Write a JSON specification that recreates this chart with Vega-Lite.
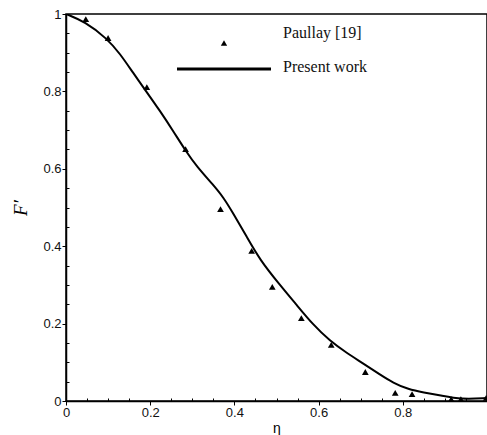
{
  "$schema": "https://vega.github.io/schema/vega-lite/v6.json",
  "autosize": "none",
  "padding": {"left": 66, "top": 14, "right": 0, "bottom": 34},
  "width": 421,
  "height": 387,
  "background": "white",
  "config": {
    "view": {"stroke": "black", "strokeWidth": 1.5},
    "axis": {"domainColor": "black", "domainWidth": 1.5, "tickColor": "black", "labelColor": "#111", "labelFont": "Liberation Sans", "labelFontSize": 13, "grid": false}
  },
  "datasets": {
    "exp": [
      {"eta": 0.047, "F": 0.987, "series": "Paullay [19]"},
      {"eta": 0.100, "F": 0.938, "series": "Paullay [19]"},
      {"eta": 0.192, "F": 0.811, "series": "Paullay [19]"},
      {"eta": 0.284, "F": 0.651, "series": "Paullay [19]"},
      {"eta": 0.367, "F": 0.496, "series": "Paullay [19]"},
      {"eta": 0.441, "F": 0.388, "series": "Paullay [19]"},
      {"eta": 0.490, "F": 0.295, "series": "Paullay [19]"},
      {"eta": 0.559, "F": 0.214, "series": "Paullay [19]"},
      {"eta": 0.630, "F": 0.145, "series": "Paullay [19]"},
      {"eta": 0.711, "F": 0.075, "series": "Paullay [19]"},
      {"eta": 0.782, "F": 0.021, "series": "Paullay [19]"},
      {"eta": 0.822, "F": 0.018, "series": "Paullay [19]"},
      {"eta": 0.915, "F": 0.005, "series": "Paullay [19]"},
      {"eta": 0.938, "F": 0.005, "series": "Paullay [19]"},
      {"eta": 0.998, "F": 0.008, "series": "Paullay [19]"}
    ],
    "model": [
      {"eta": 0.000, "F": 1.000, "series": "Present work"},
      {"eta": 0.045, "F": 0.980, "series": "Present work"},
      {"eta": 0.097, "F": 0.937, "series": "Present work"},
      {"eta": 0.128, "F": 0.898, "series": "Present work"},
      {"eta": 0.160, "F": 0.847, "series": "Present work"},
      {"eta": 0.188, "F": 0.804, "series": "Present work"},
      {"eta": 0.223, "F": 0.750, "series": "Present work"},
      {"eta": 0.255, "F": 0.697, "series": "Present work"},
      {"eta": 0.285, "F": 0.645, "series": "Present work"},
      {"eta": 0.310, "F": 0.607, "series": "Present work"},
      {"eta": 0.350, "F": 0.558, "series": "Present work"},
      {"eta": 0.374, "F": 0.526, "series": "Present work"},
      {"eta": 0.397, "F": 0.485, "series": "Present work"},
      {"eta": 0.429, "F": 0.425, "series": "Present work"},
      {"eta": 0.461, "F": 0.364, "series": "Present work"},
      {"eta": 0.508, "F": 0.300, "series": "Present work"},
      {"eta": 0.548, "F": 0.248, "series": "Present work"},
      {"eta": 0.587, "F": 0.197, "series": "Present work"},
      {"eta": 0.627, "F": 0.155, "series": "Present work"},
      {"eta": 0.667, "F": 0.124, "series": "Present work"},
      {"eta": 0.706, "F": 0.097, "series": "Present work"},
      {"eta": 0.746, "F": 0.068, "series": "Present work"},
      {"eta": 0.777, "F": 0.047, "series": "Present work"},
      {"eta": 0.813, "F": 0.030, "series": "Present work"},
      {"eta": 0.850, "F": 0.022, "series": "Present work"},
      {"eta": 0.888, "F": 0.015, "series": "Present work"},
      {"eta": 0.940, "F": 0.004, "series": "Present work"},
      {"eta": 1.000, "F": 0.008, "series": "Present work"}
    ]
  },
  "encoding": {
    "x": {"field": "eta", "type": "quantitative",
      "scale": {"domain": [0, 1], "nice": false},
      "axis": {
        "title": "η", "titleFont": "Liberation Sans", "titleFontSize": 14, "titleFontWeight": "normal", "titlePadding": 2,
        "values": [0, 0.05, 0.1, 0.15, 0.2, 0.25, 0.3, 0.35, 0.4, 0.45, 0.5, 0.55, 0.6, 0.65, 0.7, 0.75, 0.8, 0.85, 0.9, 0.95],
        "labelExpr": "abs(datum.value*5 - round(datum.value*5)) < 0.001 ? format(datum.value, '~g') : ''",
        "tickSize": {"condition": {"test": "abs(datum.value*5 - round(datum.value*5)) < 0.001", "value": 4}, "value": -3},
        "labelPadding": 1, "labelFlush": false, "labelOverlap": false
      }},
    "y": {"field": "F", "type": "quantitative",
      "scale": {"domain": [0, 1], "nice": false},
      "axis": {
        "title": "F′", "titleFont": "Liberation Serif", "titleFontStyle": "italic", "titleFontSize": 19, "titleFontWeight": "normal", "titlePadding": 12,
        "values": [0, 0.05, 0.1, 0.15, 0.2, 0.25, 0.3, 0.35, 0.4, 0.45, 0.5, 0.55, 0.6, 0.65, 0.7, 0.75, 0.8, 0.85, 0.9, 0.95, 1],
        "labelExpr": "abs(datum.value*5 - round(datum.value*5)) < 0.001 ? format(datum.value, '~g') : ''",
        "tickSize": {"condition": {"test": "abs(datum.value*5 - round(datum.value*5)) < 0.001", "value": 4}, "value": -3},
        "labelPadding": 1, "labelFlush": false, "labelOverlap": false
      }},
    "color": {"field": "series", "type": "nominal",
      "scale": {"domain": ["Paullay [19]", "Present work"], "range": ["black", "black"]},
      "legend": {
        "title": null, "orient": "none", "legendX": 150, "legendY": 21,
        "labelFont": "Liberation Serif", "labelFontSize": 16, "labelColor": "#111",
        "symbolSize": 8836, "symbolStrokeWidth": 3, "rowPadding": 13, "labelOffset": 51,
        "encode": {
          "symbols": {"update": {
            "shape": {"signal": "datum.label === 'Present work' ? 'stroke' : 'triangle-up'"},
            "size": {"signal": "datum.label === 'Present work' ? 8836 : 40"},
            "fill": {"value": "black"}, "stroke": {"value": "black"},
            "strokeWidth": {"signal": "datum.label === 'Present work' ? 3 : 0"}
          }},
          "labels": {"update": {
            "dy": {"signal": "datum.label === 'Present work' ? -2 : -10"}
          }}
        }
      }}
  },
  "layer": [
    {"data": {"name": "model"}, "mark": {"type": "line", "interpolate": "basis", "strokeWidth": 2, "clip": true}},
    {"data": {"name": "exp"}, "mark": {"type": "point", "shape": "triangle-up", "filled": true, "size": 45, "opacity": 1}}
  ]
}
